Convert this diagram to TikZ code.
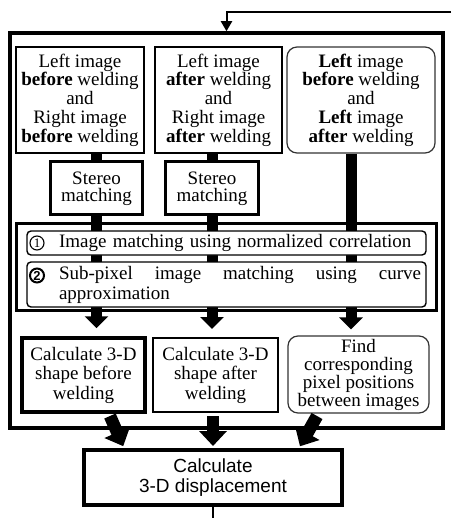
\documentclass[tikz,border=0pt]{standalone}
\usepackage{fontspec}
\setmainfont{Liberation Serif}
\setsansfont{Liberation Sans}
\usetikzlibrary{arrows.meta,backgrounds}

\begin{document}
\begin{tikzpicture}[
  x=1pt, y=-1pt,
  font=\fontsize{19}{18.7}\selectfont,
  inbox/.style={draw, line width=1.6pt, fill=white, align=center, minimum width=128pt, minimum height=106pt, inner sep=1pt},
  inround/.style={inbox, draw=black!80, line width=1.2pt, rounded corners=10pt, minimum width=148pt},
  stereobox/.style={draw, line width=3pt, fill=white, align=center, minimum width=92pt, minimum height=53pt, inner sep=1pt, font=\fontsize{19}{17}\selectfont},
  frame/.style={draw, line width=#1, inner sep=0pt},
  stepline/.style={draw, line width=1.4pt, fill=white, rounded corners=4pt, text width=391pt, align=left, inner xsep=4pt, inner ysep=1pt, font=\fontsize{19}{20}\selectfont},
  numc/.style={circle, draw, fill=white, line width=#1, minimum size=14pt, inner sep=0pt, font=\fontsize{13}{13}\selectfont},
  calcbox/.style={draw, line width=#1, fill=white, align=center, minimum width=123pt, minimum height=74pt, inner sep=1pt, font=\fontsize{19}{19.5}\selectfont},
  bar/.style={line width=11pt},
  bararrow/.style={line width=11pt, -{Triangle[length=12pt, width=23pt]}},
  fatarrow/.style={line width=12.5pt, -{Triangle[length=15pt, width=27pt]}, shorten >=2pt},
  feedline/.style={line width=2pt, -{Triangle[length=10pt, width=11pt]}}
]
  \useasboundingbox (0,0) rectangle (451,518);

  % frames
  \node[frame=3.5pt, minimum width=433pt, minimum height=395pt] (frame) at (226.5,230.5) {};
  \node[frame=3pt, minimum width=420pt, minimum height=86pt] (mframe) at (226,267) {};

  % input images
  \node[inbox] (in1) at (80,100) {Left image\\\textbf{before} welding\\and\\Right image\\\textbf{before} welding};
  \node[inbox, minimum width=127pt] (in2) at (218.5,100) {Left image\\\textbf{after} welding\\and\\Right image\\\textbf{after} welding};
  \node[inround] (in3) at (361,100) {\textbf{Left} image\\\textbf{before} welding\\and\\\textbf{Left} image\\\textbf{after} welding};

  % stereo matching
  \node[stereobox] (st1) at (96.5,188.5) {Stereo\\matching};
  \node[stereobox, minimum width=93pt] (st2) at (212,188.5) {Stereo\\matching};

  % matching steps
  \node[stepline, minimum height=24pt] (m1) at (226.5,243) {\hspace*{28pt}Image matching using normalized correlation};
  \node[stepline, minimum height=45pt] (m2) at (226.5,284.5) {\hspace*{28pt}\makebox[362pt]{Sub-pixel\hfill image\hfill matching\hfill using\hfill curve}\\\hspace*{28pt}approximation};
  \node[numc=1.1pt] (n1) at (37,243) {1};
  \node[numc=2pt, font=\fontsize{13}{13}\sffamily\bfseries] (n2) at (37,275.5) {2};

  % results
  \node[calcbox=3.5pt] (cA) at (83.5,375) {Calculate 3-D\\shape before\\welding};
  \node[calcbox=2pt, minimum width=125pt] (cB) at (215.5,375) {Calculate 3-D\\shape after\\welding};
  \node[calcbox=1.2pt, draw=black!80, rounded corners=10pt, minimum width=141pt, minimum height=77pt, font=\fontsize{19}{18}\selectfont] (cC) at (358.5,374.5) {Find\\corresponding\\pixel positions\\between images};

  \node[draw, line width=4pt, minimum width=258pt, minimum height=55pt, align=center, font=\fontsize{19}{20}\sffamily] (res) at (213,477.5) {Calculate\\3-D displacement};

  \coordinate (feed) at (451,12);
  \coordinate (fromA) at (110,416);
  \coordinate (fromB) at (213,416);
  \coordinate (fromC) at (317,416);
  \coordinate (out) at (213,518);

  \begin{pgfonlayer}{background}
    \draw[bar] (st1.north |- in1.south) -- (st1.north);
    \draw[bar] (st2.north |- in2.south) -- (st2.north);
    \draw[bararrow, shorten >=8pt] (st1.south) -- (st1.south |- cA.north);
    \draw[bararrow, shorten >=8pt] (st2.south) -- (st2.south |- cB.north);
    \draw[bararrow, shorten >=6pt] ([xshift=-10pt]in3.south) -- ([xshift=-10pt]in3.south |- cC.north);
  \end{pgfonlayer}

  \draw[feedline] (feed) -| (frame.north);
  \draw[fatarrow] (fromA) -- ([xshift=-89pt]res.north);
  \draw[fatarrow] (fromB) -- (res.north);
  \draw[fatarrow] (fromC) -- ([xshift=86pt]res.north);
  \draw[line width=2pt] (res.south) -- (out);
\end{tikzpicture}
\end{document}
